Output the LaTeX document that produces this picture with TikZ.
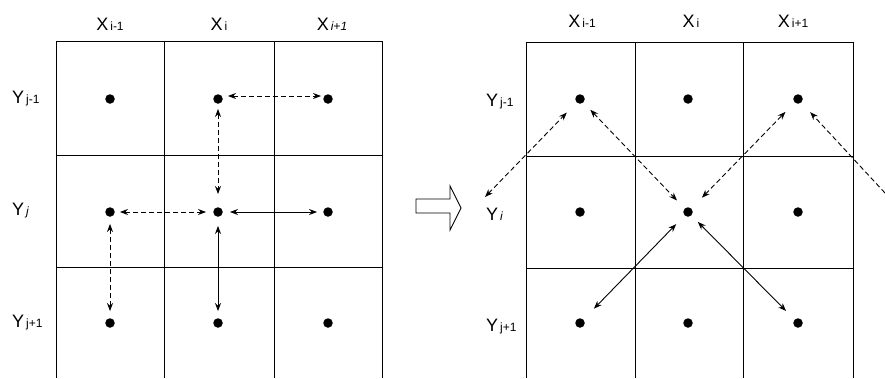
\documentclass[tikz,border=0pt]{standalone}
\usepackage{fontspec}
\setmainfont{Liberation Sans}
\usetikzlibrary{arrows.meta}
\newcommand{\lbl}[2]{{\fontsize{18}{18}\selectfont #1}\kern2pt{\fontsize{12}{12}\selectfont #2}}
\tikzset{
  gridline/.style={line width=0.9pt},
  dot/.style={circle,fill=black,inner sep=0pt,minimum size=9.5pt},
  conn/.style={line width=0.9pt,{Stealth[length=8pt,width=6pt]}-{Stealth[length=8pt,width=6pt]}},
  dconn/.style={conn,dash pattern=on 5pt off 3pt},
  lab/.style={inner sep=0pt},
}
\begin{document}
\begin{tikzpicture}[x=1pt,y=-1pt]
\useasboundingbox (0,0) rectangle (885,378);
% left grid
\draw[gridline] (56,378) -- (56,41) -- (382,41) -- (382,378);
\draw[gridline] (164,41) -- (164,378) (274,41) -- (274,378);
\draw[gridline] (56,155) -- (382,155) (56,267) -- (382,267);
% right grid
\draw[gridline] (526,378) -- (526,42) -- (853,42) -- (853,378);
\draw[gridline] (635,42) -- (635,378) (743,42) -- (743,378);
\draw[gridline] (526,156) -- (853,156) (526,268) -- (853,268);
% labels left
\node[lab] (lx1) at (110,24) {\lbl{X}{i-1}};
\node[lab] (lx2) at (219,24) {\lbl{X}{i}};
\node[lab] (lx3) at (332,24) {\lbl{X}{\itshape i+1}};
\node[lab,anchor=west] (ly1) at (12,99) {\lbl{Y}{j-1}};
\node[lab,anchor=west] (ly2) at (12,211) {\lbl{Y}{\itshape j}};
\node[lab,anchor=west] (ly3) at (12,323) {\lbl{Y}{j+1}};
% labels right
\node[lab] (rx1) at (582,21) {\lbl{X}{i-1}};
\node[lab] (rx2) at (691,21) {\lbl{X}{i}};
\node[lab] (rx3) at (793,21) {\lbl{X}{i+1}};
\node[lab,anchor=west] (ry1) at (486,102) {\lbl{Y}{j-1}};
\node[lab,anchor=west] (ry2) at (486,214) {\lbl{Y}{\itshape i}};
\node[lab,anchor=west] (ry3) at (486,327) {\lbl{Y}{j+1}};
% dots
\foreach \c/\x in {1/110,2/218,3/328}{
  \foreach \r/\y in {1/99,2/212,3/323}{
    \node[dot] (L\c\r) at (\x,\y) {};
    \node[dot] (R\c\r) at (\x+470,\y) {};
  }
}
% left arrows
\draw[dconn,shorten <=5pt,shorten >=2pt] ([yshift=3pt]L21.east) -- ([yshift=3pt]L31.west);
\draw[dconn,shorten <=5pt,shorten >=13pt] (L21) -- (L22);
\draw[dconn,shorten <=5pt,shorten >=7pt] (L12) -- (L22);
\draw[conn,shorten <=7pt,shorten >=6pt] (L22) -- (L32);
\draw[dconn,shorten <=7pt,shorten >=7pt] (L12) -- (L13);
\draw[conn,shorten <=9pt,shorten >=7pt] (L22) -- (L23);
% hollow arrow
\draw[line width=0.9pt] (416,199) -- (450,199) -- (450,186) -- (461,208) -- (450,230) -- (450,213) -- (416,213) -- cycle;
% right arrows
\coordinate (FL) at (485,197);
\coordinate (FR) at (885,193);
\draw[dconn,shorten >=14pt] (FL) -- (R11);
\draw[dconn,shorten <=10pt,shorten >=11pt] (R11) -- (R22);
\draw[dconn,shorten <=15pt,shorten >=13pt] (R22) -- (R31);
\draw[line width=0.9pt,dash pattern=on 5pt off 3pt,-{Stealth[length=8pt,width=6pt]},shorten >=13pt] (FR) -- (R31);
\draw[conn,shorten <=12pt,shorten >=15pt] (R22) -- (R13);
\draw[conn,shorten <=9pt,shorten >=12pt] (R22) -- (R33);
\end{tikzpicture}
\end{document}
